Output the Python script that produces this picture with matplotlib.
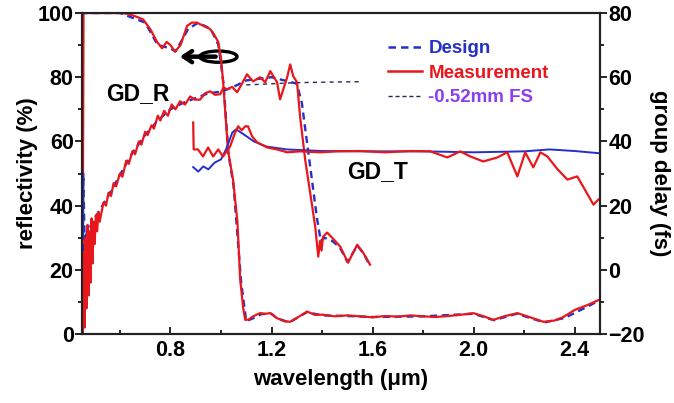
import numpy as np
import matplotlib
matplotlib.use('Agg')
import matplotlib.pyplot as plt
from matplotlib.patches import Ellipse

plt.rcParams['font.family'] = ['Liberation Sans', 'DejaVu Sans']
plt.rcParams['font.weight'] = 'bold'

# reflectivity (left axis, %)
wl_r_meas = [0.452, 0.456, 0.50, 0.55, 0.60, 0.628, 0.66, 0.692, 0.72, 0.747,
             0.767, 0.785, 0.80, 0.818, 0.84, 0.866, 0.885, 0.905, 0.93, 0.957,
             0.975, 0.989, 1.0, 1.008, 1.018, 1.028, 1.048, 1.065, 1.076, 1.088,
             1.096, 1.11, 1.123, 1.14, 1.155, 1.175, 1.195, 1.22, 1.25, 1.274,
             1.30, 1.341, 1.37, 1.404, 1.45, 1.50, 1.551, 1.60, 1.65, 1.70,
             1.75, 1.80, 1.85, 1.90, 1.95, 1.999, 2.04, 2.078, 2.12, 2.173,
             2.22, 2.276, 2.32, 2.355, 2.40, 2.45, 2.495]
refl_meas = [0, 100, 100, 100, 100, 99.8, 99, 98, 95, 91,
             89, 91, 90, 88, 90, 96, 97, 97, 96, 95,
             93, 91, 86, 79, 68, 57, 48, 35, 17, 8,
             4.4, 4.5, 5.3, 6, 6.5, 6.3, 6.5, 5, 4, 3.8,
             5, 7, 6, 6, 5.5, 5.8, 5.5, 5.2, 5.6, 5.4,
             5.8, 5.5, 5.3, 5.6, 6, 6.5, 5.5, 4.4, 5.5, 6.5,
             5.3, 3.8, 4.2, 5.3, 7.5, 9, 10.6]

wl_r_des = [0.451, 0.453, 0.60, 0.70, 0.75, 0.80, 0.82, 0.87, 0.91, 0.96,
            0.99, 1.01, 1.03, 1.05, 1.08, 1.10, 1.13, 1.16, 1.20, 1.22,
            1.27, 1.34, 1.40, 1.50, 1.60, 1.80, 2.00, 2.08, 2.17, 2.28,
            2.36, 2.45, 2.495]
refl_des = [0, 100, 100, 97, 90, 89, 88, 95, 97, 95,
            90, 78, 56, 46, 16, 4, 5, 6.2, 6.3, 5,
            3.6, 6.8, 5.8, 5.6, 5.3, 5.5, 6.3, 4.3, 6.3, 3.6,
            5, 8.5, 10.4]

# group delay in reflection (right axis, fs)
wl_gdr_meas = [0.452, 0.456, 0.46, 0.464, 0.468, 0.472, 0.476, 0.48, 0.484, 0.488,
               0.492, 0.496, 0.50, 0.505, 0.51, 0.515, 0.52, 0.525, 0.535, 0.545,
               0.555, 0.565, 0.575, 0.585, 0.60, 0.61, 0.625, 0.635, 0.65, 0.66,
               0.675, 0.685, 0.70, 0.71, 0.725, 0.735, 0.75, 0.76, 0.775, 0.79,
               0.805, 0.82, 0.838, 0.858, 0.878, 0.897, 0.917, 0.937, 0.957, 0.977,
               0.997, 1.01, 1.024, 1.044, 1.064, 1.083, 1.103, 1.127, 1.155, 1.175,
               1.195, 1.222, 1.234, 1.262, 1.274, 1.286, 1.301, 1.313, 1.333, 1.353,
               1.373, 1.385, 1.392, 1.398, 1.404, 1.42, 1.44, 1.472, 1.503, 1.539,
               1.563, 1.59]
gdr_meas = [-20, 5, -18, 10, -12, 14, -8, 12, -4, 16,
            2, 15, 8, 17, 12, 18, 15, 17, 21, 20,
            24, 23, 27, 26, 30, 29, 34, 33, 37, 36,
            40, 39, 43, 42, 45, 44, 48, 46.5, 49.5, 48,
            51.5, 50, 52.5, 51.5, 54, 53, 53, 55, 55.6, 54.5,
            54.7, 56.8, 56.2, 57, 55.3, 58, 60.9, 58.7, 60, 58.4,
            61.9, 58.4, 53.1, 60, 64, 60.3, 58.4, 47.8, 34.4, 24,
            13.4, 4.1, 9, 6, 10.3, 11.6, 10, 7.2, 2.2, 7.8,
            5.3, 1.6]

wl_gdr_des = [0.452, 0.455, 0.46, 0.48, 0.50, 0.55, 0.60, 0.65, 0.70, 0.75,
              0.80, 0.85, 0.90, 0.95, 1.00, 1.05, 1.10, 1.15, 1.20, 1.25,
              1.30, 1.32, 1.34, 1.36, 1.38, 1.395, 1.41, 1.44, 1.47, 1.50,
              1.54, 1.565, 1.585]
gdr_des = [-20, 30, 10, 13, 16, 22.5, 29.5, 36.5, 42, 46.5,
           50, 52, 53.5, 55, 55.5, 57, 59, 59.5, 60, 59,
           58, 52, 40, 28, 16, 9, 10, 9, 7, 2.5,
           7.5, 5, 2]

# group delay in transmission (right axis, fs)
wl_gdt_meas = [0.890, 0.892, 0.909, 0.929, 0.949, 0.969, 0.989, 1.008, 1.036, 1.056,
               1.068, 1.082, 1.096, 1.107, 1.123, 1.143, 1.183, 1.222, 1.262, 1.313,
               1.393, 1.46, 1.55, 1.65, 1.75, 1.828, 1.896, 1.947, 1.987, 2.038,
               2.094, 2.133, 2.173, 2.204, 2.236, 2.264, 2.292, 2.33, 2.371, 2.41,
               2.44, 2.474, 2.494]
gdt_meas = [45.9, 37.5, 37.5, 35.3, 38.1, 35.3, 37.5, 35.3, 38.4, 42.8,
            44.7, 43.5, 44.7, 44.7, 41.6, 39.7, 38.1, 37.5, 36.6, 36.9,
            36.6, 36.9, 37, 36.6, 37, 36.9, 35, 36.9, 35.3, 33.75,
            35, 36.6, 29.1, 36.6, 31.9, 36.6, 35.3, 31.5, 28.1, 29.1,
            25, 20.3, 21.9]

wl_gdt_des = [0.89, 0.91, 0.93, 0.95, 0.975, 1.0, 1.02, 1.045, 1.06, 1.09,
              1.13, 1.18, 1.26, 1.4, 1.6, 1.8, 2.0, 2.2, 2.3, 2.4, 2.5]
gdt_des = [32, 30.6, 32.2, 31.3, 33.4, 34.4, 37.5, 42.8, 43.75, 42.2,
           40, 38.4, 37.5, 37, 36.9, 36.9, 36.6, 36.9, 37.5, 37, 36.3]

# -0.52 mm fused silica reference
wl_fs = [1.1, 1.3, 1.45, 1.56]
gd_fs = [57.6, 58.3, 58.5, 58.6]

red = '#e8171c'
blue = '#2430c8'

fig = plt.figure(figsize=(6.74, 4.03), dpi=100)
ax = fig.add_axes([82 / 674, 1 - 334 / 403, 518 / 674, 321 / 403])
ax2 = ax.twinx()

ax.plot(wl_r_des, refl_des, color=blue, ls=(0, (3, 2)), lw=1.7)
ax.plot(wl_r_meas, refl_meas, color=red, lw=1.6)

ax2.plot(wl_fs, gd_fs, color='#2a2a50', ls=(0, (3, 3)), lw=1.0)
ax2.plot(wl_gdr_des, gdr_des, color=blue, ls=(0, (3, 2)), lw=1.7)
ax2.plot(wl_gdr_meas, gdr_meas, color=red, lw=1.6)
ax2.plot(wl_gdt_des, gdt_des, color=blue, lw=1.4)
ax2.plot(wl_gdt_meas, gdt_meas, color=red, lw=1.6)

ax.set_xlim(0.45, 2.5)
ax.set_ylim(0, 100)
ax2.set_ylim(-20, 80)

ax.set_xticks([0.8, 1.2, 1.6, 2.0, 2.4])
ax.set_xticks([0.6, 1.0, 1.4, 1.8, 2.2], minor=True)
ax.set_yticks(np.arange(0, 101, 20))
ax.set_yticks(np.arange(10, 100, 20), minor=True)
ax2.set_yticks(np.arange(-20, 81, 20))
ax2.set_yticks(np.arange(-10, 80, 20), minor=True)

ax.tick_params(axis='x', which='both', direction='in', labelsize=15.5, pad=4)
ax.tick_params(axis='x', which='major', length=5, width=1.2)
ax.tick_params(axis='x', which='minor', length=3, width=1.2)
ax.tick_params(axis='y', which='major', direction='out', length=5, width=1.2, labelsize=15.5, pad=1)
ax.tick_params(axis='y', which='minor', direction='out', length=3, width=1.2)
ax2.tick_params(axis='y', which='major', direction='out', length=5, width=1.2, labelsize=15.5, pad=1)
ax2.tick_params(axis='y', which='minor', direction='out', length=3, width=1.2)

for a in (ax, ax2):
    for s in a.spines.values():
        s.set_linewidth(1.5)
        s.set_color('#222222')

ax.set_xlabel('wavelength (μm)', fontsize=16, fontweight='bold', labelpad=6)
ax.set_ylabel('reflectivity (%)', fontsize=16, fontweight='bold', labelpad=0)
ax2.set_ylabel('group delay (fs)', fontsize=16, fontweight='bold', rotation=270, labelpad=18)

ax.text(0.672, 75, 'GD_R', fontsize=16.5, fontweight='bold', ha='center', va='center')
ax.text(1.618, 50.6, 'GD_T', fontsize=16.5, fontweight='bold', ha='center', va='center')

# arrow pointing to the left axis curve
ax.annotate('', xy=(0.826, 86.4), xytext=(0.99, 86.4),
            arrowprops=dict(arrowstyle='->,head_length=0.6,head_width=0.4', lw=3.2, color='black'))
ax.add_patch(Ellipse((0.99, 86.4), 0.147, 3.5, fill=False, lw=2.4, color='black'))

handles = [
    plt.Line2D([], [], color=blue, ls=(0, (3, 2)), lw=1.8),
    plt.Line2D([], [], color=red, lw=1.8),
    plt.Line2D([], [], color='#2a2a50', ls=(0, (3, 2)), lw=1.0),
]
labels = ['Design', 'Measurement', '-0.52mm FS']
leg = fig.legend(handles, labels, loc='upper left', bbox_to_anchor=(388 / 674, 1 - 40 / 403),
                 frameon=False, fontsize=13.5, handlelength=1.8, handletextpad=0.35,
                 labelspacing=0.4, borderpad=0, borderaxespad=0)
for t, c in zip(leg.get_texts(), [blue, red, '#8a3ef0']):
    t.set_color(c)
    t.set_fontweight('bold')

fig.savefig('out.png', dpi=100)
